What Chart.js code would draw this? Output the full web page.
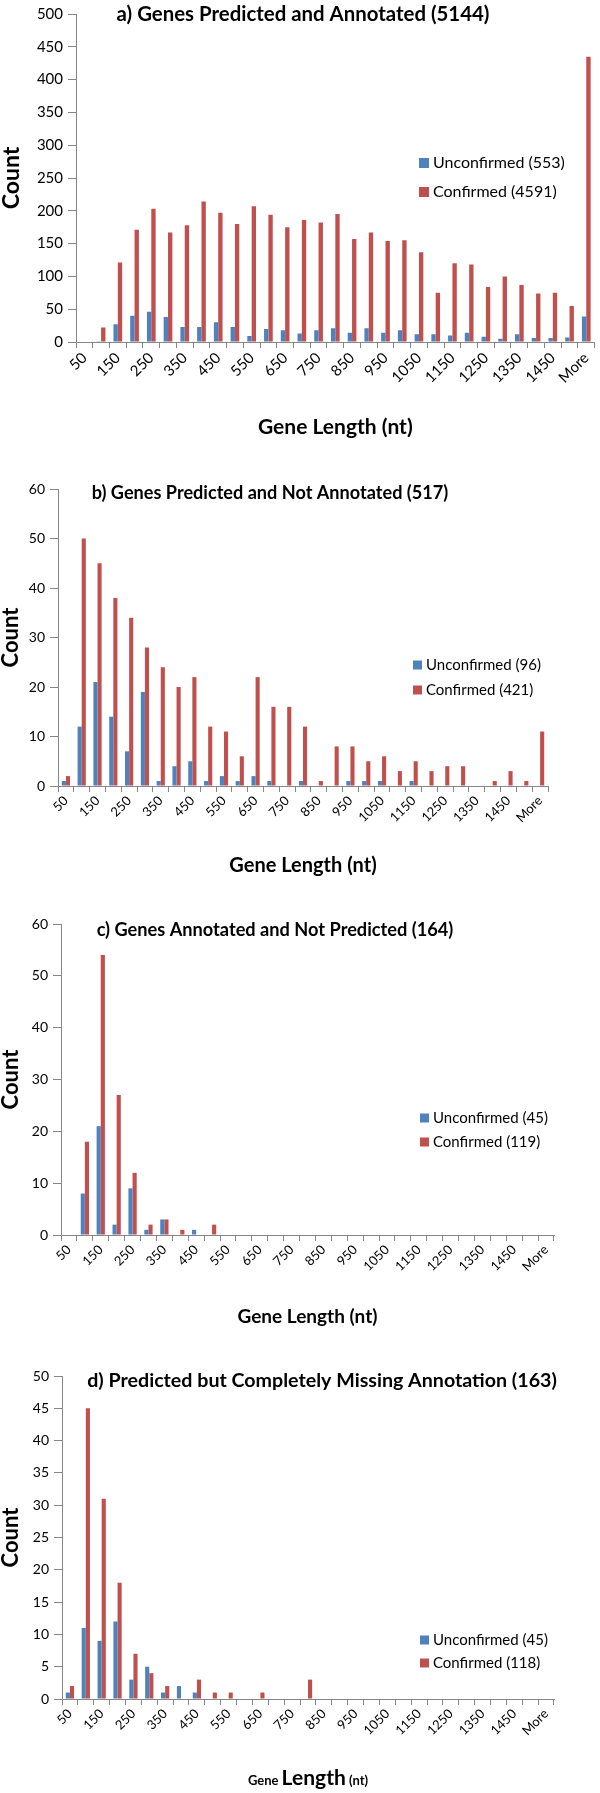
<!DOCTYPE html>
<html><head><meta charset="utf-8">
<script src="https://cdn.jsdelivr.net/npm/chart.js@4.4.1/dist/chart.umd.min.js"></script>
<style>
html,body{margin:0;padding:0;background:#fff;}
body{width:600px;height:1793px;position:relative;overflow:hidden;}
canvas{position:absolute;left:0;}
</style></head><body>
<canvas id="ca" width="600" height="450" style="top:0px"></canvas>
<canvas id="cb" width="600" height="440" style="top:450px"></canvas>
<canvas id="cc" width="600" height="450" style="top:890px"></canvas>
<canvas id="cd" width="600" height="453" style="top:1340px"></canvas>
<script>
// ---------- data ----------
const categories = ['50','100','150','200','250','300','350','400','450','500','550','600','650','700','750','800','850','900','950','1000','1050','1100','1150','1200','1250','1300','1350','1400','1450','1500','More'];
const seriesNames = ['Unconfirmed','Confirmed'];
const yAxisTitle = 'Count';
const xAxisTitle = 'Gene Length (nt)';

const aTitle = 'a) Genes Predicted and Annotated (5144)';
const aTotals = [553, 4591];
const aUnconfirmed = [0,1,27,40,46,38,23,23,30,23,9,20,18,13,18,21,14,21,14,18,12,12,10,14,8,5,12,6,6,7,39];
const aConfirmed   = [0,22,121,171,203,167,178,214,197,180,207,194,175,186,182,195,157,167,154,155,137,75,120,118,84,100,87,74,75,55,435];

const bTitle = 'b) Genes Predicted and Not Annotated (517)';
const bTotals = [96, 421];
const bUnconfirmed = [1,12,21,14,7,19,1,4,5,1,2,1,2,1,0,1,0,0,1,1,1,0,1,0,0,0,0,0,0,0,0];
const bConfirmed   = [2,50,45,38,34,28,24,20,22,12,11,6,22,16,16,12,1,8,8,5,6,3,5,3,4,4,0,1,3,1,11];

const cTitle = 'c) Genes Annotated and Not Predicted (164)';
const cTotals = [45, 119];
const cUnconfirmed = [0,8,21,2,9,1,3,0,1,0,0,0,0,0,0,0,0,0,0,0,0,0,0,0,0,0,0,0,0,0,0];
const cConfirmed   = [0,18,54,27,12,2,3,1,0,2,0,0,0,0,0,0,0,0,0,0,0,0,0,0,0,0,0,0,0,0,0];

const dTitle = 'd) Predicted but Completely Missing Annotation (163)';
const dTotals = [45, 118];
const dUnconfirmed = [1,11,9,12,3,5,1,2,1,0,0,0,0,0,0,0,0,0,0,0,0,0,0,0,0,0,0,0,0,0,0];
const dConfirmed   = [2,45,31,18,7,4,2,0,3,1,1,0,1,0,0,3,0,0,0,0,0,0,0,0,0,0,0,0,0,0,0];

// ---------- style ----------
const FONT = 'Lato, "Open Sans", "DejaVu Sans", sans-serif';
const BLUE = '#4F81BD', RED = '#C0504D', AXIS = '#868686';

function fitText(ctx, text, cx, cy, width, weight) {
  ctx.font = weight + ' 20px ' + FONT;
  const w = ctx.measureText(text).width;
  const size = 20 * width / w;
  ctx.font = weight + ' ' + size.toFixed(2) + 'px ' + FONT;
  ctx.textAlign = 'center';
  ctx.textBaseline = 'middle';
  ctx.fillText(text, cx, cy);
}

const overlay = {
  id: 'overlay',
  afterDraw(chart, args, o) {
    const ctx = chart.ctx;
    ctx.save();
    ctx.fillStyle = '#000';
    fitText(ctx, o.title, o.tx, o.ty, o.tw, 'bold');
    ctx.font = o.lsize + 'px ' + FONT;
    ctx.textAlign = 'left';
    ctx.textBaseline = 'middle';
    chart.data.datasets.forEach((ds, i) => {
      const y = o.ly + i * o.lgap;
      ctx.fillStyle = ds.backgroundColor;
      ctx.fillRect(o.lx, y - o.lsq / 2, o.lsq, o.lsq);
      ctx.fillStyle = '#000';
      ctx.fillText(ds.label, o.lx + o.lsq + 4, y);
    });
    if (o.mixedX) {
      const ca = chart.chartArea;
      const parts = [[ 'Gene ', 13 ], [ 'Length', 21 ], [ ' (nt)', 13 ]];
      let total = 0;
      parts.forEach(p => { ctx.font = 'bold ' + p[1] + 'px ' + FONT; total += ctx.measureText(p[0]).width; });
      let x = (ca.left + ca.right) / 2 - total / 2;
      ctx.textBaseline = 'alphabetic';
      ctx.fillStyle = '#000';
      parts.forEach(p => { ctx.font = 'bold ' + p[1] + 'px ' + FONT; ctx.fillText(p[0], x, o.mixedY); x += ctx.measureText(p[0]).width; });
    }
    ctx.restore();
  }
};

function build(id, cfg) {
  return new Chart(document.getElementById(id), {
    type: 'bar',
    data: {
      labels: categories,
      datasets: [
        { label: seriesNames[0] + ' (' + cfg.totals[0] + ')', data: cfg.u, backgroundColor: BLUE, categoryPercentage: 0.52, barPercentage: 1 },
        { label: seriesNames[1] + ' (' + cfg.totals[1] + ')', data: cfg.c, backgroundColor: RED, categoryPercentage: 0.52, barPercentage: 1 }
      ]
    },
    options: {
      responsive: false, animation: false,
      layout: { autoPadding: false, padding: { top: cfg.top, right: cfg.right, bottom: 0, left: 0 } },
      plugins: {
        legend: { display: false }, title: { display: false }, tooltip: { enabled: false },
        overlay: cfg.ov
      },
      scales: {
        x: {
          offset: true,
          grid: { display: true, drawOnChartArea: false, drawTicks: true, tickLength: 6, color: AXIS, offset: true },
          border: { display: true, color: AXIS },
          ticks: { autoSkip: false, minRotation: 45, maxRotation: 45, padding: 1, color: '#000',
                   font: { family: FONT, size: cfg.xfs },
                   callback: (v, i) => (i % 2 === 0 ? categories[i] : '') },
          title: { display: !cfg.ov.mixedX, text: xAxisTitle, color: '#000',
                   font: { family: FONT, size: cfg.xts, weight: 'bold', lineHeight: 1 },
                   padding: { top: 0, bottom: cfg.xtp } },
          afterFit: s => { s.height = cfg.xh; }
        },
        y: {
          min: 0, max: cfg.ymax,
          grid: { display: true, drawOnChartArea: false, drawTicks: true, tickLength: 8, color: AXIS },
          border: { display: true, color: AXIS },
          ticks: { stepSize: cfg.step, padding: 5, color: '#000', font: { family: FONT, size: cfg.yfs } },
          title: { display: true, text: yAxisTitle, color: '#000',
                   font: { family: FONT, size: cfg.yts, weight: 'bold', lineHeight: 1 },
                   padding: { top: 0, bottom: 0 } },
          afterFit: s => { s.width = cfg.yw; }
        }
      }
    },
    plugins: [overlay]
  });
}

build('ca', { u: aUnconfirmed, c: aConfirmed, totals: aTotals, ymax: 500, step: 50,
  top: 7, right: 0, xh: 108, yw: 76, xfs: 15, yfs: 15, xts: 21, yts: 23, xtp: 12,
  ov: { title: aTitle, tx: 303, ty: 14, tw: 373, lx: 419, ly: 163, lgap: 29, lsq: 10, lsize: 16 } });

build('cb', { u: bUnconfirmed, c: bConfirmed, totals: bTotals, ymax: 60, step: 10,
  top: 39, right: 52, xh: 104, yw: 58, xfs: 13, yfs: 14, xts: 20, yts: 22, xtp: 14,
  ov: { title: bTitle, tx: 270, ty: 43, tw: 357, lx: 413, ly: 215, lgap: 25, lsq: 9, lsize: 15 } });

build('cc', { u: cUnconfirmed, c: cConfirmed, totals: cTotals, ymax: 60, step: 10,
  top: 34, right: 46, xh: 105, yw: 61, xfs: 13, yfs: 14, xts: 19, yts: 22, xtp: 14,
  ov: { title: cTitle, tx: 275, ty: 40, tw: 357, lx: 420, ly: 228, lgap: 24, lsq: 9, lsize: 15 } });

build('cd', { u: dUnconfirmed, c: dConfirmed, totals: dTotals, ymax: 50, step: 5,
  top: 36, right: 46, xh: 94, yw: 62, xfs: 13, yfs: 14, xts: 20, yts: 22, xtp: 8,
  ov: { title: dTitle, tx: 322, ty: 41, tw: 470, lx: 420, ly: 300, lgap: 23, lsq: 9, lsize: 15, mixedX: true, mixedY: 445 } });
</script>
</body></html>
